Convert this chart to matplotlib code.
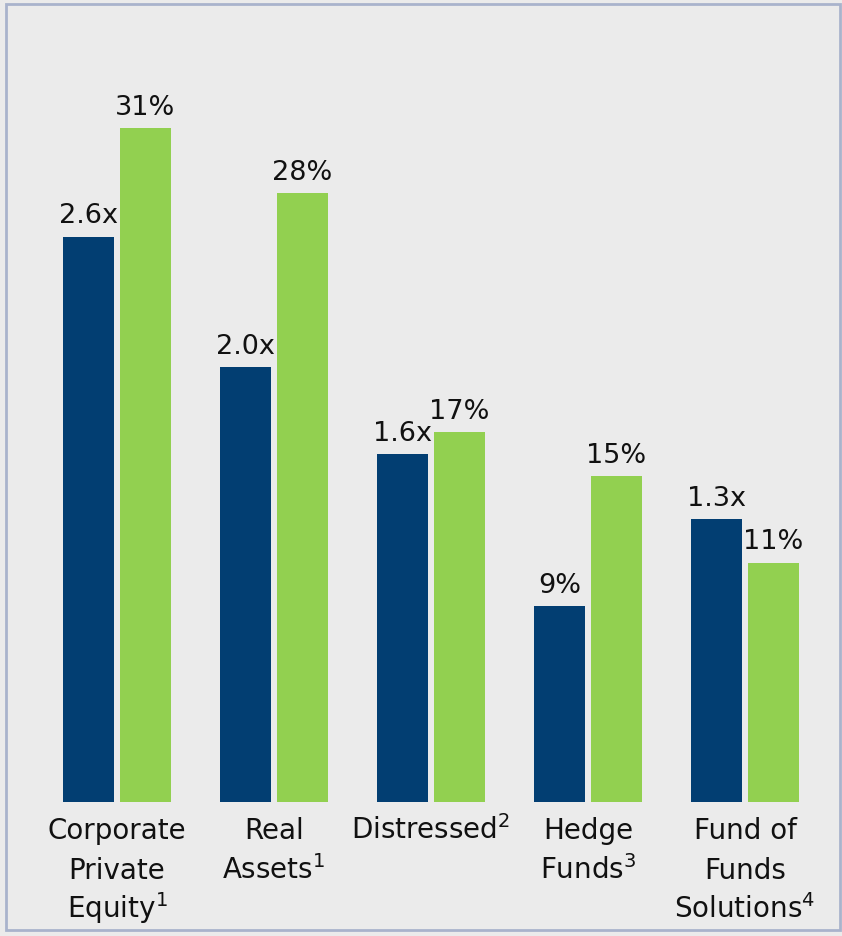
import matplotlib
matplotlib.use("Agg")
import matplotlib.pyplot as plt
from matplotlib.patches import Rectangle
import numpy as np

plt.rcParams["mathtext.fontset"] = "dejavusans"

categories = ["Corporate\nPrivate\nEquity$^{1}$", "Real\nAssets$^{1}$", "Distressed$^{2}$",
              "Hedge\nFunds$^{3}$", "Fund of\nFunds\nSolutions$^{4}$"]
blue_values = [26, 20, 16, 9, 13]          # bar heights (multiples shown x10)
blue_labels = ["2.6x", "2.0x", "1.6x", "9%", "1.3x"]
green_values = [31, 28, 17, 15, 11]
green_labels = ["31%", "28%", "17%", "15%", "11%"]

BLUE = "#023e72"
GREEN = "#92d050"
BG = "#ebebeb"

W, H = 842, 937
fig = plt.figure(figsize=(W / 100, H / 100), dpi=100)
fig.patch.set_facecolor(BG)

left_px, right_px = 38.5, 823.5
base_px, top_px = 803, 42
ax = fig.add_axes([left_px / W, (H - base_px) / H,
                   (right_px - left_px) / W, (base_px - top_px) / H])
ax.set_facecolor(BG)
ax.set_xlim(-0.5, 4.5)
ax.set_ylim(0, 35)

x = np.arange(len(categories))
bw = 0.325
off = 0.1815
ax.bar(x - off, blue_values, width=bw, color=BLUE, edgecolor="none")
ax.bar(x + off, green_values, width=bw, color=GREEN, edgecolor="none")

for xi, v, lab in zip(x, blue_values, blue_labels):
    ax.annotate(lab, (xi - off, v), xytext=(0, 6), textcoords="offset points",
                ha="center", va="bottom", fontsize=19.5, color="#111111")
for xi, v, lab in zip(x, green_values, green_labels):
    ax.annotate(lab, (xi + off, v), xytext=(0, 6), textcoords="offset points",
                ha="center", va="bottom", fontsize=19.5, color="#111111")

line_offsets = [-26, -54.5, -83]
for xi, cat in zip(x, categories):
    for k, line in enumerate(cat.split("\n")):
        ax.annotate(line, (xi, 0), xytext=(0, line_offsets[k]),
                    textcoords="offset points", ha="center", va="baseline",
                    fontsize=20, color="#111111")

for s in ax.spines.values():
    s.set_visible(False)
ax.set_xticks([])
ax.set_yticks([])

fig.patches.append(Rectangle((6 / W, (H - 931) / H), (840 - 6) / W, (931 - 5) / H,
                             transform=fig.transFigure, fill=False,
                             edgecolor="#a9b3cc", linewidth=2))

fig.savefig("out.png", dpi=100, facecolor=BG)
